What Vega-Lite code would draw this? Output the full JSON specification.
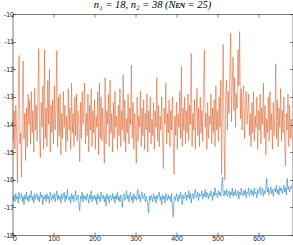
{
"$schema": "https://vega.github.io/schema/vega-lite/v6.json",
"width": 280, "height": 221,
"autosize": "none",
"padding": {"left": 12.5, "top": 14, "right": 0.5, "bottom": 10},
"background": "white",
"config": {"view": {"stroke": null}, "axis": {"grid": false, "domainColor": "#262626", "domainWidth": 0.6, "tickColor": "#262626", "tickWidth": 0.6, "tickSize": -3, "labelFont": "Liberation Sans", "labelFontSize": 7, "labelColor": "#262626", "labelPadding": 2, "title": null}},
"title": {"text": "n₁ = 18, n₂ = 38 (Nᴇɴ = 25)", "font": "Liberation Serif", "fontSize": 10.5, "fontStyle": "italic", "fontWeight": "normal", "color": "#000000", "offset": 0, "anchor": "middle"},
"data": {"values": [
{"x":0,"a":-13.1,"b":-16.6},{"x":2,"a":-14.6,"b":-16.75},{"x":4,"a":-13.5,"b":-16.55},{"x":6,"a":-14.9,"b":-16.8},{"x":8,"a":-13.3,"b":-16.5},{"x":10,"a":-14.2,"b":-16.7},{"x":12,"a":-16.1,"b":-16.6},{"x":14,"a":-13.0,"b":-16.85},{"x":16,"a":-11.5,"b":-16.45},{"x":18,"a":-14.7,"b":-16.7},
{"x":20,"a":-14.3,"b":-16.65},{"x":22,"a":-15.9,"b":-16.5},{"x":24,"a":-13.2,"b":-16.8},{"x":26,"a":-11.7,"b":-16.6},{"x":28,"a":-14.5,"b":-16.9},{"x":30,"a":-13.6,"b":-16.55},{"x":32,"a":-15.3,"b":-16.7},{"x":34,"a":-13.4,"b":-16.45},{"x":36,"a":-14.8,"b":-16.75},{"x":38,"a":-12.9,"b":-16.6},
{"x":40,"a":-14.0,"b":-16.8},{"x":42,"a":-13.1,"b":-16.55},{"x":44,"a":-14.7,"b":-16.65},{"x":46,"a":-12.8,"b":-16.4},{"x":48,"a":-14.3,"b":-16.75},{"x":50,"a":-13.5,"b":-16.6},{"x":52,"a":-15.0,"b":-16.85},{"x":54,"a":-12.7,"b":-16.5},{"x":56,"a":-14.2,"b":-16.7},{"x":58,"a":-13.3,"b":-16.6},
{"x":60,"a":-14.6,"b":-16.5},{"x":62,"a":-13.0,"b":-16.75},{"x":64,"a":-11.25,"b":-16.6},{"x":66,"a":-14.4,"b":-16.8},{"x":68,"a":-15.2,"b":-16.45},{"x":70,"a":-13.2,"b":-16.65},{"x":72,"a":-14.1,"b":-16.55},{"x":74,"a":-12.6,"b":-16.9},{"x":76,"a":-14.9,"b":-16.6},{"x":78,"a":-11.3,"b":-16.7},
{"x":80,"a":-14.5,"b":-16.55},{"x":82,"a":-13.4,"b":-16.8},{"x":84,"a":-14.8,"b":-16.5},{"x":86,"a":-12.4,"b":-16.7},{"x":88,"a":-14.0,"b":-16.6},{"x":90,"a":-12.0,"b":-16.85},{"x":92,"a":-15.0,"b":-16.45},{"x":94,"a":-13.3,"b":-16.65},{"x":96,"a":-14.3,"b":-16.75},{"x":98,"a":-13.1,"b":-16.55},
{"x":100,"a":-14.7,"b":-16.7},{"x":102,"a":-12.6,"b":-16.5},{"x":104,"a":-14.2,"b":-16.8},{"x":106,"a":-13.4,"b":-16.6},{"x":108,"a":-11.33,"b":-16.4},{"x":110,"a":-14.8,"b":-16.75},{"x":112,"a":-13.0,"b":-16.55},{"x":114,"a":-14.4,"b":-16.7},{"x":116,"a":-12.9,"b":-16.6},{"x":118,"a":-15.1,"b":-16.85},
{"x":120,"a":-13.6,"b":-16.5},{"x":122,"a":-14.5,"b":-16.7},{"x":124,"a":-12.8,"b":-16.6},{"x":126,"a":-14.1,"b":-16.45},{"x":128,"a":-13.3,"b":-16.8},{"x":130,"a":-15.0,"b":-16.55},{"x":132,"a":-13.7,"b":-16.7},{"x":134,"a":-14.6,"b":-16.35},{"x":136,"a":-12.7,"b":-16.65},{"x":138,"a":-14.2,"b":-16.75},
{"x":140,"a":-13.4,"b":-16.6},{"x":142,"a":-14.9,"b":-16.85},{"x":144,"a":-12.5,"b":-16.5},{"x":146,"a":-14.3,"b":-16.7},{"x":148,"a":-13.6,"b":-16.55},{"x":150,"a":-14.8,"b":-16.8},{"x":152,"a":-13.0,"b":-16.6},{"x":154,"a":-14.4,"b":-16.4},{"x":156,"a":-12.9,"b":-16.75},{"x":158,"a":-14.6,"b":-16.65},
{"x":160,"a":-13.5,"b":-16.55},{"x":162,"a":-14.1,"b":-16.9},{"x":164,"a":-15.35,"b":-17.13},{"x":166,"a":-13.2,"b":-16.6},{"x":168,"a":-14.5,"b":-16.7},{"x":170,"a":-12.8,"b":-16.45},{"x":172,"a":-14.0,"b":-16.8},{"x":174,"a":-13.4,"b":-16.55},{"x":176,"a":-12.5,"b":-16.7},{"x":178,"a":-14.7,"b":-16.6},
{"x":180,"a":-13.6,"b":-16.75},{"x":182,"a":-14.4,"b":-16.5},{"x":184,"a":-12.9,"b":-16.65},{"x":186,"a":-15.0,"b":-16.85},{"x":188,"a":-13.3,"b":-16.55},{"x":190,"a":-14.2,"b":-16.7},{"x":192,"a":-12.7,"b":-16.4},{"x":194,"a":-14.8,"b":-16.8},{"x":196,"a":-13.5,"b":-16.6},{"x":198,"a":-14.3,"b":-16.7},
{"x":200,"a":-13.1,"b":-16.55},{"x":202,"a":-14.9,"b":-16.75},{"x":204,"a":-13.7,"b":-16.6},{"x":206,"a":-14.1,"b":-16.9},{"x":208,"a":-12.8,"b":-16.5},{"x":210,"a":-15.1,"b":-16.7},{"x":212,"a":-12.5,"b":-16.6},{"x":214,"a":-14.5,"b":-16.8},{"x":216,"a":-13.0,"b":-16.45},{"x":218,"a":-14.6,"b":-16.65},
{"x":220,"a":-13.4,"b":-16.7},{"x":222,"a":-14.2,"b":-16.55},{"x":224,"a":-15.4,"b":-16.8},{"x":226,"a":-12.3,"b":-16.6},{"x":228,"a":-14.7,"b":-16.95},{"x":230,"a":-13.5,"b":-16.5},{"x":232,"a":-14.0,"b":-16.7},{"x":234,"a":-12.9,"b":-16.6},{"x":236,"a":-14.8,"b":-16.85},{"x":238,"a":-12.4,"b":-16.55},
{"x":240,"a":-14.3,"b":-16.65},{"x":242,"a":-13.6,"b":-16.75},{"x":244,"a":-15.0,"b":-16.5},{"x":246,"a":-13.2,"b":-16.7},{"x":248,"a":-14.5,"b":-16.6},{"x":250,"a":-12.8,"b":-16.85},{"x":252,"a":-14.1,"b":-16.55},{"x":254,"a":-13.7,"b":-16.7},{"x":256,"a":-14.9,"b":-16.45},{"x":258,"a":-13.3,"b":-16.75},
{"x":260,"a":-14.4,"b":-16.6},{"x":262,"a":-12.7,"b":-16.8},{"x":264,"a":-14.8,"b":-16.55},{"x":266,"a":-13.5,"b":-16.7},{"x":268,"a":-14.2,"b":-17.0},{"x":270,"a":-12.2,"b":-16.6},{"x":272,"a":-14.6,"b":-16.5},{"x":274,"a":-13.1,"b":-16.75},{"x":276,"a":-15.0,"b":-16.65},{"x":278,"a":-13.8,"b":-16.4},
{"x":280,"a":-14.3,"b":-16.7},{"x":282,"a":-12.9,"b":-16.55},{"x":284,"a":-14.7,"b":-16.8},{"x":286,"a":-13.4,"b":-16.6},{"x":288,"a":-14.0,"b":-16.45},{"x":290,"a":-11.85,"b":-16.75},{"x":292,"a":-14.5,"b":-16.6},{"x":294,"a":-13.2,"b":-16.85},{"x":296,"a":-14.9,"b":-16.5},{"x":298,"a":-13.6,"b":-16.7},
{"x":300,"a":-14.2,"b":-16.6},{"x":302,"a":-15.4,"b":-16.75},{"x":304,"a":-13.0,"b":-16.5},{"x":306,"a":-14.6,"b":-16.35},{"x":308,"a":-13.7,"b":-16.7},{"x":310,"a":-14.1,"b":-16.55},{"x":312,"a":-12.8,"b":-16.8},{"x":314,"a":-14.8,"b":-16.6},{"x":316,"a":-13.4,"b":-16.45},{"x":318,"a":-14.4,"b":-16.7},
{"x":320,"a":-13.1,"b":-16.65},{"x":322,"a":-14.9,"b":-16.5},{"x":324,"a":-13.6,"b":-16.8},{"x":326,"a":-14.2,"b":-16.6},{"x":328,"a":-12.9,"b":-16.7},{"x":330,"a":-15.0,"b":-16.95},{"x":332,"a":-13.5,"b":-17.2},{"x":334,"a":-14.3,"b":-16.6},{"x":336,"a":-13.0,"b":-16.75},{"x":338,"a":-14.7,"b":-16.55},
{"x":340,"a":-13.8,"b":-16.65},{"x":342,"a":-14.4,"b":-16.8},{"x":344,"a":-13.2,"b":-16.5},{"x":346,"a":-14.9,"b":-16.7},{"x":348,"a":-13.5,"b":-16.6},{"x":350,"a":-14.1,"b":-16.85},{"x":352,"a":-12.3,"b":-16.55},{"x":354,"a":-14.6,"b":-16.7},{"x":356,"a":-13.3,"b":-16.6},{"x":358,"a":-14.8,"b":-16.45},
{"x":360,"a":-13.7,"b":-16.75},{"x":362,"a":-14.2,"b":-16.6},{"x":364,"a":-13.0,"b":-16.9},{"x":366,"a":-14.5,"b":-16.55},{"x":368,"a":-15.6,"b":-16.7},{"x":370,"a":-13.4,"b":-16.6},{"x":372,"a":-14.0,"b":-16.85},{"x":374,"a":-12.5,"b":-16.5},{"x":376,"a":-14.7,"b":-16.65},{"x":378,"a":-13.6,"b":-16.75},
{"x":380,"a":-14.3,"b":-16.55},{"x":382,"a":-13.1,"b":-16.7},{"x":384,"a":-14.8,"b":-16.6},{"x":386,"a":-13.5,"b":-16.8},{"x":388,"a":-14.2,"b":-16.5},{"x":390,"a":-13.0,"b":-16.95},{"x":392,"a":-14.6,"b":-17.34},{"x":394,"a":-15.8,"b":-16.7},{"x":396,"a":-13.7,"b":-16.6},{"x":398,"a":-14.4,"b":-16.75},
{"x":400,"a":-13.2,"b":-16.5},{"x":402,"a":-14.9,"b":-16.65},{"x":404,"a":-13.6,"b":-16.8},{"x":406,"a":-14.1,"b":-16.55},{"x":408,"a":-12.8,"b":-16.7},{"x":410,"a":-14.5,"b":-16.45},{"x":412,"a":-11.9,"b":-16.6},{"x":414,"a":-14.8,"b":-16.9},{"x":416,"a":-13.4,"b":-16.55},{"x":418,"a":-14.2,"b":-16.7},
{"x":420,"a":-13.0,"b":-16.6},{"x":422,"a":-14.7,"b":-16.45},{"x":424,"a":-13.5,"b":-16.75},{"x":426,"a":-14.3,"b":-16.55},{"x":428,"a":-12.9,"b":-16.65},{"x":430,"a":-14.6,"b":-16.4},{"x":432,"a":-13.3,"b":-16.7},{"x":434,"a":-14.0,"b":-16.5},{"x":436,"a":-11.42,"b":-16.85},{"x":438,"a":-14.8,"b":-16.6},
{"x":440,"a":-13.6,"b":-16.5},{"x":442,"a":-14.2,"b":-16.7},{"x":444,"a":-13.1,"b":-16.55},{"x":446,"a":-14.9,"b":-16.35},{"x":448,"a":-13.7,"b":-16.65},{"x":450,"a":-12.7,"b":-16.6},{"x":452,"a":-14.4,"b":-16.45},{"x":454,"a":-13.4,"b":-16.75},{"x":456,"a":-14.8,"b":-16.5},{"x":458,"a":-13.0,"b":-16.6},
{"x":460,"a":-14.3,"b":-16.55},{"x":462,"a":-13.5,"b":-16.4},{"x":464,"a":-14.6,"b":-16.7},{"x":466,"a":-12.5,"b":-16.5},{"x":468,"a":-11.3,"b":-16.6},{"x":470,"a":-14.1,"b":-16.35},{"x":472,"a":-13.6,"b":-16.65},{"x":474,"a":-14.9,"b":-16.45},{"x":476,"a":-13.2,"b":-16.55},{"x":478,"a":-14.5,"b":-16.7},
{"x":480,"a":-13.7,"b":-16.5},{"x":482,"a":-14.0,"b":-16.6},{"x":484,"a":-12.9,"b":-16.4},{"x":486,"a":-14.7,"b":-16.55},{"x":488,"a":-13.4,"b":-16.75},{"x":490,"a":-14.3,"b":-16.45},{"x":492,"a":-13.1,"b":-16.6},{"x":494,"a":-14.8,"b":-16.3},{"x":496,"a":-12.6,"b":-16.55},{"x":498,"a":-14.2,"b":-16.5},
{"x":500,"a":-13.5,"b":-16.65},{"x":502,"a":-14.6,"b":-16.4},{"x":504,"a":-13.0,"b":-16.55},{"x":506,"a":-14.1,"b":-16.45},{"x":508,"a":-12.4,"b":-16.6},{"x":510,"a":-15.8,"b":-16.3},{"x":512,"a":-13.2,"b":-15.9},{"x":514,"a":-11.1,"b":-16.5},{"x":516,"a":-14.4,"b":-16.6},{"x":518,"a":-16.0,"b":-16.4},
{"x":520,"a":-13.0,"b":-16.55},{"x":522,"a":-12.4,"b":-16.35},{"x":524,"a":-14.2,"b":-16.6},{"x":526,"a":-12.8,"b":-16.5},{"x":528,"a":-13.6,"b":-16.4},{"x":530,"a":-12.2,"b":-16.65},{"x":532,"a":-10.7,"b":-16.45},{"x":534,"a":-13.9,"b":-16.55},{"x":536,"a":-12.6,"b":-16.3},{"x":538,"a":-11.55,"b":-16.6},
{"x":540,"a":-13.5,"b":-16.45},{"x":542,"a":-12.3,"b":-16.55},{"x":544,"a":-14.1,"b":-16.35},{"x":546,"a":-12.9,"b":-16.6},{"x":548,"a":-13.4,"b":-16.5},{"x":550,"a":-11.3,"b":-16.4},{"x":552,"a":-12.6,"b":-16.7},{"x":554,"a":-10.64,"b":-16.45},{"x":556,"a":-13.8,"b":-16.55},{"x":558,"a":-12.7,"b":-16.3},
{"x":560,"a":-14.2,"b":-16.5},{"x":562,"a":-13.0,"b":-16.6},{"x":564,"a":-12.6,"b":-16.4},{"x":566,"a":-14.5,"b":-16.55},{"x":568,"a":-13.3,"b":-16.35},{"x":570,"a":-12.8,"b":-16.65},{"x":572,"a":-14.0,"b":-16.45},{"x":574,"a":-13.5,"b":-16.5},{"x":576,"a":-12.9,"b":-16.3},{"x":578,"a":-14.4,"b":-16.6},
{"x":580,"a":-13.6,"b":-16.45},{"x":582,"a":-14.8,"b":-16.35},{"x":584,"a":-13.2,"b":-16.55},{"x":586,"a":-14.3,"b":-16.4},{"x":588,"a":-12.8,"b":-16.6},{"x":590,"a":-14.6,"b":-16.3},{"x":592,"a":-13.7,"b":-16.5},{"x":594,"a":-14.1,"b":-16.45},{"x":596,"a":-13.0,"b":-16.65},{"x":598,"a":-14.9,"b":-16.35},
{"x":600,"a":-13.5,"b":-16.5},{"x":602,"a":-14.2,"b":-16.4},{"x":604,"a":-12.9,"b":-16.25},{"x":606,"a":-14.7,"b":-16.55},{"x":608,"a":-13.4,"b":-16.45},{"x":610,"a":-14.0,"b":-16.3},{"x":612,"a":-12.5,"b":-16.6},{"x":614,"a":-14.5,"b":-16.4},{"x":616,"a":-13.3,"b":-16.5},{"x":618,"a":-15.1,"b":-16.35},
{"x":620,"a":-13.8,"b":-15.95},{"x":622,"a":-14.3,"b":-16.45},{"x":624,"a":-13.0,"b":-16.3},{"x":626,"a":-14.6,"b":-16.55},{"x":628,"a":-12.8,"b":-16.4},{"x":630,"a":-14.2,"b":-16.25},{"x":632,"a":-13.6,"b":-16.5},{"x":634,"a":-14.9,"b":-16.35},{"x":636,"a":-13.2,"b":-16.6},{"x":638,"a":-14.4,"b":-16.4},
{"x":640,"a":-13.7,"b":-16.3},{"x":642,"a":-11.8,"b":-16.45},{"x":644,"a":-14.5,"b":-16.2},{"x":646,"a":-13.1,"b":-16.5},{"x":648,"a":-14.8,"b":-16.35},{"x":650,"a":-13.4,"b":-16.55},{"x":652,"a":-14.1,"b":-16.25},{"x":654,"a":-12.7,"b":-16.4},{"x":656,"a":-14.6,"b":-16.3},{"x":658,"a":-13.5,"b":-16.5},
{"x":660,"a":-14.3,"b":-16.35},{"x":662,"a":-13.0,"b":-16.2},{"x":664,"a":-14.7,"b":-16.45},{"x":666,"a":-15.5,"b":-16.3},{"x":668,"a":-13.6,"b":-16.55},{"x":670,"a":-14.2,"b":-15.95},{"x":672,"a":-12.9,"b":-16.35},{"x":674,"a":-14.8,"b":-16.25},{"x":676,"a":-13.3,"b":-16.45},{"x":678,"a":-14.5,"b":-16.3},
{"x":680,"a":-13.8,"b":-16.2},{"x":682,"a":-14.6,"b":-16.35}
]},
"layer": [
{"mark": {"type": "line", "color": "#0072BD", "strokeWidth": 0.5, "clip": true},
 "encoding": {
  "x": {"field": "x", "type": "quantitative", "scale": {"domain": [0, 683], "nice": false, "zero": false}, "axis": {"orient": "bottom", "values": [0,100,200,300,400,500,600]}},
  "y": {"field": "b", "type": "quantitative", "scale": {"domain": [-18, -10], "nice": false, "zero": false}, "axis": {"orient": "left", "values": [-18,-17,-16,-15,-14,-13,-12,-11,-10], "labelExpr": "'' + datum.value"}}
 }},
{"mark": {"type": "line", "color": "#D95319", "strokeWidth": 0.5, "clip": true},
 "encoding": {
  "x": {"field": "x", "type": "quantitative", "axis": {"orient": "top", "values": [0,100,200,300,400,500,600], "labels": false}},
  "y": {"field": "a", "type": "quantitative", "axis": {"orient": "right", "values": [-18,-17,-16,-15,-14,-13,-12,-11,-10], "labels": false}}
 }}
],
"resolve": {"axis": {"x": "independent", "y": "independent"}}
}
